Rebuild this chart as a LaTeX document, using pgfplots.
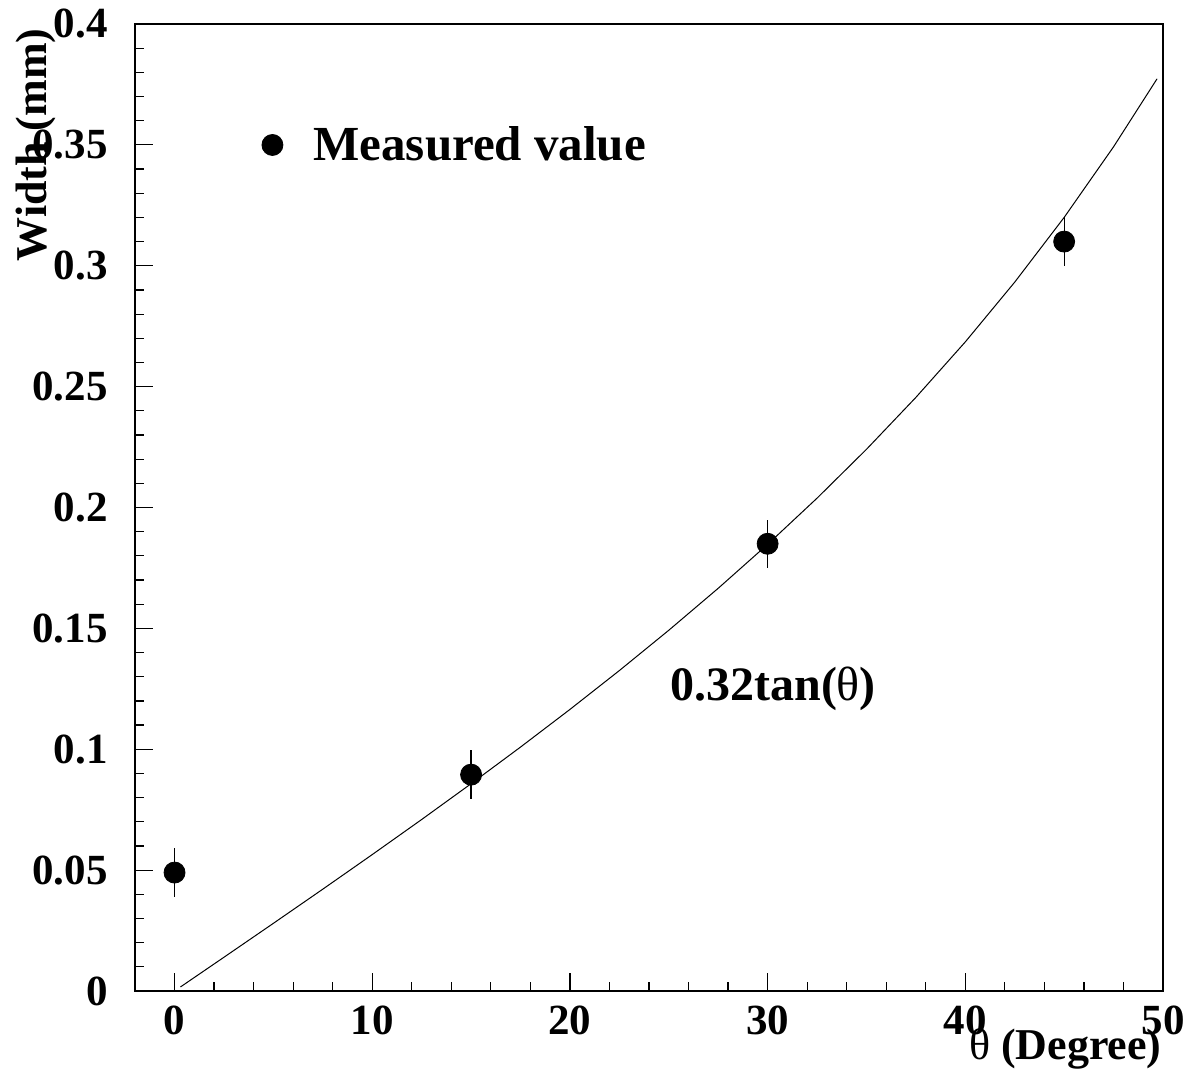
\documentclass[border=0pt]{standalone}
\usepackage{fontspec}
\setmainfont{Liberation Serif}
\usepackage{pgfplots}
\pgfplotsset{compat=1.18}
\begin{document}
\begin{tikzpicture}
\begin{axis}[
  scale only axis, width=514pt, height=483.5pt,
  xmin=-2, xmax=50, ymin=0, ymax=0.4,
  clip=false,
  axis line style={line width=0.7pt},
  tick align=inside, tick pos=left,
  xtick={0,10,20,30,40,50},
  ytick={0,0.05,0.1,0.15,0.2,0.25,0.3,0.35,0.4},
  minor x tick num=4, minor y tick num=4,
  major tick length=9pt, minor tick length=4.5pt,
  every tick/.style={black, line width=0.6pt},
  scaled y ticks=false,
  /pgf/number format/assume math mode=true,
  yticklabel style={/pgf/number format/fixed, /pgf/number format/precision=2,
    anchor=east, inner sep=0pt, xshift=-13.5pt,
    font=\bfseries\fontsize{21.5}{21.5}\selectfont},
  xticklabel style={anchor=north, inner sep=0pt, yshift=-7pt,
    font=\bfseries\fontsize{21.5}{21.5}\selectfont},
  legend cell align=left,
  legend style={at={(rel axis cs:0.1231,0.8749)}, anchor=west, draw=none, fill=none,
    inner sep=0pt, outer sep=0pt, column sep=0pt,
    nodes={inner sep=0pt},
    font=\bfseries\fontsize{24.5}{24.5}\selectfont},
  legend image code/.code={\fill[black] (5.25pt,0pt) circle (5.25pt); \path[draw=none] (0pt,0pt) rectangle (25.75pt,0pt);},
]
\addplot[black, line width=0.5pt, forget plot] coordinates {
(0.3,0.00168) (2.5,0.01397) (5,0.02800) (7.5,0.04213) (10,0.05643) (12.5,0.07094)
(15,0.08574) (17.5,0.10090) (20,0.11647) (22.5,0.13255) (25,0.14922) (27.5,0.16658)
(30,0.18475) (32.5,0.20386) (35,0.22407) (37.5,0.24555) (40,0.26851) (42.5,0.29323)
(45,0.32000) (47.5,0.34922) (49.7,0.37734)};
\addplot[black, only marks, mark=*, mark size=5.25pt,
  error bars/.cd, y dir=both, y explicit, error mark=none,
  error bar style={line width=0.6pt, black}] coordinates {
(0,0.049) +- (0,0.01)
(15,0.0895) +- (0,0.01)
(30,0.185) +- (0,0.01)
(45,0.31) +- (0,0.01)};
\addlegendentry{Measured value}
\node[anchor=base, inner sep=0pt, font=\bfseries\fontsize{24}{24}\selectfont]
  at (axis cs:30.28,0.12) {0.32tan({\mdseries θ})};
\node[anchor=base east, inner sep=0pt, font=\bfseries\fontsize{22}{22}\selectfont]
  at (axis cs:49.95,-0.0285) {{\mdseries θ} (Degree)};
\node[rotate=90, anchor=base east, inner sep=0pt, font=\bfseries\fontsize{22}{22}\selectfont]
  at (axis cs:-6.5,0.3983) {Width (mm)};
\end{axis}
\pgfresetboundingbox
\path (-67.5pt,-43.5pt) rectangle (528.5pt,495.5pt);
\end{tikzpicture}
\end{document}
